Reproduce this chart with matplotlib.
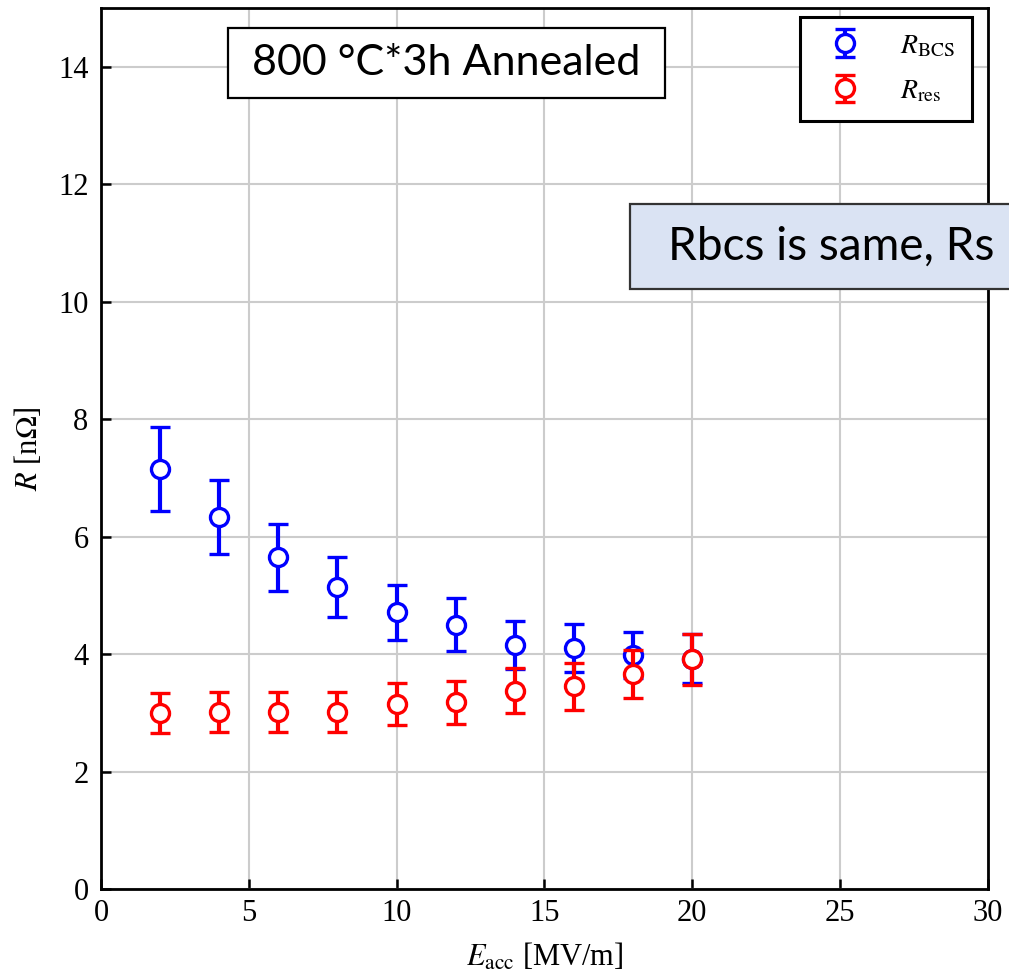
import matplotlib
matplotlib.use("Agg")
import matplotlib.pyplot as plt
from matplotlib.patches import Rectangle

# Data
E_acc = [2, 4, 6, 8, 10, 12, 14, 16, 18, 20]
R_bcs = [7.15, 6.33, 5.65, 5.15, 4.71, 4.50, 4.16, 4.10, 3.98, 3.92]
R_bcs_err = [0.72, 0.63, 0.57, 0.51, 0.47, 0.45, 0.41, 0.41, 0.39, 0.42]
R_res = [3.00, 3.01, 3.02, 3.02, 3.15, 3.18, 3.38, 3.45, 3.66, 3.91]
R_res_err = [0.34, 0.34, 0.34, 0.34, 0.35, 0.37, 0.38, 0.40, 0.41, 0.43]
x_ticks = [0, 5, 10, 15, 20, 25, 30]
y_ticks = [0, 2, 4, 6, 8, 10, 12, 14]

plt.rcParams['font.family'] = 'serif'
plt.rcParams['font.serif'] = ['Liberation Serif', 'DejaVu Serif']
plt.rcParams['mathtext.fontset'] = 'stix'

fig = plt.figure(figsize=(10.09, 9.76), dpi=100)
ax = fig.add_axes([0.1001, 0.0891, 0.8789, 0.9027])

common = dict(fmt='o', markersize=13, markerfacecolor='white', markeredgewidth=2.4,
              elinewidth=3.0, capsize=7, capthick=3.0)
ax.errorbar(E_acc, R_bcs, yerr=R_bcs_err, color='#0000ff', label=r'$R_{\rm BCS}$', zorder=3, **common)
ax.errorbar(E_acc, R_res, yerr=R_res_err, color='#ff0000', label=r'$R_{\rm res}$', zorder=4, **common)

ax.set_xlim(0, 30)
ax.set_ylim(0, 15)
ax.set_xticks(x_ticks)
ax.set_yticks(y_ticks)
ax.grid(True, color='#cccccc', linewidth=1.5)
ax.set_axisbelow(True)
ax.tick_params(direction='in', length=7, width=1.8, labelsize=22)
ax.tick_params(axis='x', pad=7)
ax.tick_params(axis='y', pad=9)
for lab in ax.get_xticklabels() + ax.get_yticklabels():
    lab.set_fontfamily(['Liberation Serif', 'DejaVu Serif'])
for s in ax.spines.values():
    s.set_linewidth(2.0)

ax.set_xlabel(r'$E_{\rm acc}$ [MV/m]', fontsize=22, labelpad=10,
              fontfamily=['Liberation Serif', 'DejaVu Serif'])
ax.set_ylabel(r'$R$ [n$\Omega$]', fontsize=22, labelpad=10,
              fontfamily=['Liberation Serif', 'DejaVu Serif'])

leg = ax.legend(loc='upper right', fontsize=20, frameon=True, fancybox=False,
                edgecolor='black', framealpha=1, borderpad=0.6, handletextpad=1.0,
                labelspacing=0.7, handlelength=2.0, borderaxespad=0,
                bbox_to_anchor=(0.982, 0.99))
leg.get_frame().set_linewidth(2.2)

W, H = 1009.0, 976.0
# Box 1
fig.patches.append(Rectangle((228 / W, 1 - 98 / H), (665 - 228) / W, 70 / H,
                             transform=fig.transFigure, facecolor='white',
                             edgecolor='black', linewidth=1.6, zorder=10))
fig.text(446 / W, 1 - 63 / H, '800 °C*3h Annealed', fontsize=31,
         family=['Lato', 'DejaVu Sans'], ha='center', va='center', zorder=11)

# Box 2 (box runs past the right edge, as in the reference)
fig.patches.append(Rectangle((630 / W, 1 - 289 / H), 500 / W, 85 / H,
                             transform=fig.transFigure, facecolor='#dae3f3',
                             edgecolor='#333333', linewidth=1.6, zorder=10))
fig.text(668 / W, 1 - 247 / H, 'Rbcs is same, Rs', fontsize=33,
         family=['Lato', 'DejaVu Sans'], ha='left', va='center', zorder=11)

fig.savefig('out.png', dpi=100)
